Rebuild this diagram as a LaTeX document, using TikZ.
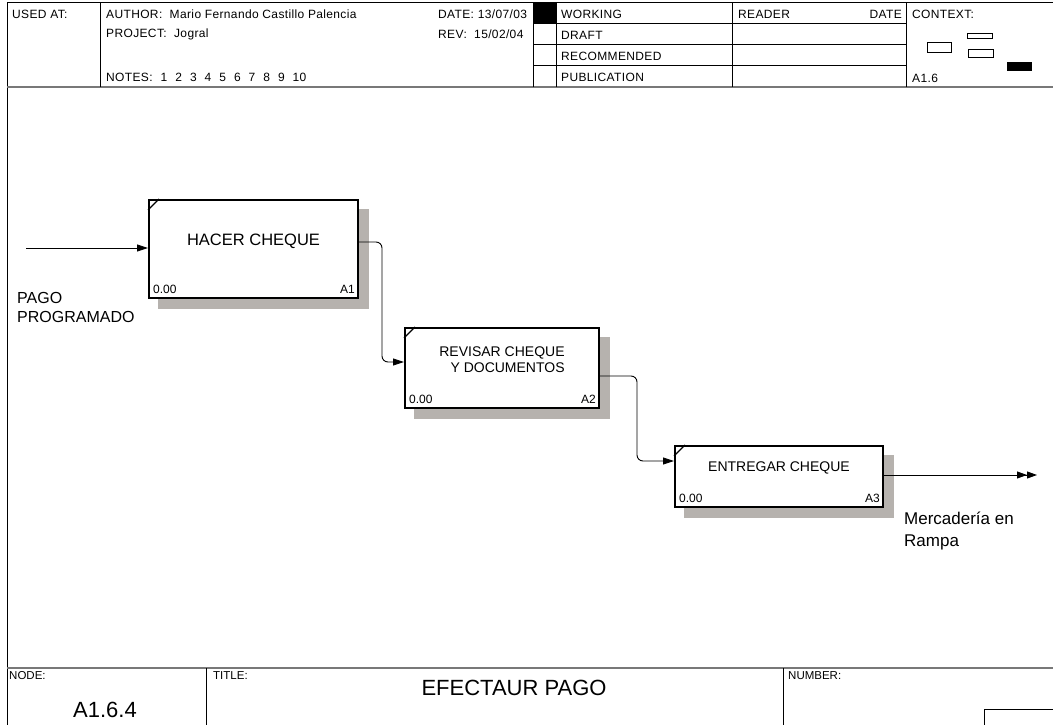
\documentclass[tikz,border=0pt]{standalone}
\usepackage{fontspec}
\setmainfont{Liberation Sans}
\newfontfamily\headfont[LetterSpace=3]{Liberation Sans}
\usetikzlibrary{arrows.meta,backgrounds}
\definecolor{shadowgray}{RGB}{182,178,174}
\definecolor{rulegray}{RGB}{120,120,120}

\begin{document}
\begin{tikzpicture}[x=1pt,y=-1pt,>={Triangle[length=11pt,width=7pt]}]
\tikzstyle{frame}=[line width=1pt, draw=black]
\tikzstyle{rule}=[line width=2.5pt, draw=rulegray]
\tikzstyle{small}=[font=\headfont\fontsize{12}{14}\selectfont, inner sep=0pt, anchor=west]
\tikzstyle{tag}=[font=\fontsize{11.5}{13}\selectfont, inner sep=0pt, anchor=west]
\tikzstyle{activity}=[rectangle, draw=black, line width=2pt, fill=white, inner sep=0pt]
\tikzstyle{corner}=[font=\fontsize{12}{14}\selectfont, inner sep=0pt]
\tikzstyle{flow}=[line width=0.9pt, rounded corners=6pt]
\tikzstyle{shade}=[fill=shadowgray]

\useasboundingbox (0,0) rectangle (1053,725);

% Header
\draw[frame] (7,725) -- (7,3) -- (1053,3);
\draw[rule] (7,87) -- (1053,87);
\foreach \x in {100,533,556,732,906}
  \draw[frame] (\x,3) -- (\x,87);
\foreach \y in {24,45,66}
  \draw[frame] (533,\y) -- (906,\y);
\fill (533,3) rectangle (556,24);
\node[small] (usedat) at (12,14) {USED AT:};
\node[small] (author) at (106,14) {AUTHOR:\ \ Mario Fernando Castillo Palencia};
\node[small] (date) at (438,14) {DATE:\ 13/07/03};
\node[small] (project) at (106,34) {PROJECT:\ \ Jogral};
\node[small] (rev) at (438,34) {REV:\ \ 15/02/04};
\node[small] (notes) at (106,77) {NOTES:\hspace{8pt}1\hspace{8pt}2\hspace{8pt}3\hspace{8pt}4\hspace{8pt}5\hspace{8pt}6\hspace{8pt}7\hspace{8pt}8\hspace{8pt}9\hspace{8pt}10};
\node[small] (working) at (561,14) {WORKING};
\node[small] (draft) at (561,35) {DRAFT};
\node[small] (recommended) at (561,56) {RECOMMENDED};
\node[small] (publication) at (561,77) {PUBLICATION};
\node[small] (reader) at (738,14) {READER};
\node[small, anchor=east] (rdate) at (902,14) {DATE};
\node[small] (context) at (912,14) {CONTEXT:};
\node[small] (parent) at (912,78) {A1.6};
\draw[line width=0.8pt] (927,42) rectangle (951,52);
\draw[line width=0.8pt] (967,33) rectangle (992,38);
\draw[line width=0.8pt] (968,49) rectangle (993,57);
\fill (1007,62) rectangle (1032,71);

% Activities
\node[activity, minimum width=209pt, minimum height=98pt] (a1) at (253.5,249) {};
\node[activity, minimum width=194pt, minimum height=80pt] (a2) at (502,368) {};
\node[activity, minimum width=208pt, minimum height=61pt] (a3) at (779,476.5) {};
\begin{scope}[on background layer]
  \foreach \b in {a1,a2,a3}
    \fill[shade] ([shift={(10,10)}]\b.north west) rectangle ([shift={(10,10)}]\b.south east);
\end{scope}
\foreach \b in {a1,a2,a3}
  \draw[line width=1.2pt] ([yshift=-11pt]\b.north west) -- ([xshift=11pt]\b.north west);

\node[font=\fontsize{16.5}{19}\selectfont] (t1) at ([yshift=8pt]a1.center) {HACER CHEQUE};
\node[font=\fontsize{14}{16}\selectfont, align=right] (t2) at ([yshift=8pt]a2.center) {REVISAR CHEQUE\\ Y DOCUMENTOS};
\node[font=\fontsize{14}{16}\selectfont] (t3) at ([yshift=8.5pt]a3.center) {ENTREGAR CHEQUE};

\node[corner, anchor=base west] (c1) at ([xshift=5pt,yshift=6pt]a1.south west) {0.00};
\node[corner, anchor=base east] (r1) at ([xshift=-4pt,yshift=6pt]a1.south east) {A1};
\node[corner, anchor=base west] (c2) at ([xshift=5pt,yshift=6pt]a2.south west) {0.00};
\node[corner, anchor=base east] (r2) at ([xshift=-4pt,yshift=6pt]a2.south east) {A2};
\node[corner, anchor=base west] (c3) at ([xshift=5pt,yshift=6pt]a3.south west) {0.00};
\node[corner, anchor=base east] (r3) at ([xshift=-4pt,yshift=6pt]a3.south east) {A3};

% Arrows
\coordinate (src) at (26,248);
\coordinate (sink) at (1037,475);
\draw[flow,->] (src) -- (a1.west |- src);
\draw[flow,->] ([yshift=7pt]a1.east) -| ([xshift=-22pt,yshift=6pt]a2.west) -- ([yshift=6pt]a2.west);
\draw[flow,->] ([yshift=-8pt]a2.east) -| ([xshift=-37pt,yshift=15.5pt]a3.west) -- ([yshift=15.5pt]a3.west);
\draw[flow,-{Triangle[length=10pt,width=7pt]Triangle[length=10pt,width=7pt]}] (a3.east |- sink) -- (sink);
\node[anchor=west, align=left, inner sep=0pt, font=\fontsize{16}{19}\selectfont] (pago) at (17,307.5) {PAGO\\PROGRAMADO};
\node[anchor=west, align=left, inner sep=0pt, font=\fontsize{17}{22}\selectfont] (merc) at (904,531) {Mercadería en\\Rampa};

% Footer
\draw[rule] (7,668) -- (1053,668);
\draw[frame] (206,668) -- (206,725);
\draw[frame] (783,668) -- (783,725);
\draw[frame] (984,725) -- (984,709) -- (1053,709);
\node[tag] (nodelbl) at (9,676) {NODE:};
\node[tag] (titlelbl) at (213,676) {TITLE:};
\node[tag] (numberlbl) at (788,676) {NUMBER:};
\node[font=\fontsize{22}{24}\selectfont, inner sep=0pt] (nodenum) at (105,710) {A1.6.4};
\node[font=\fontsize{22}{24}\selectfont, inner sep=0pt] (title) at (514,688) {EFECTAUR PAGO};
\end{tikzpicture}
\end{document}
